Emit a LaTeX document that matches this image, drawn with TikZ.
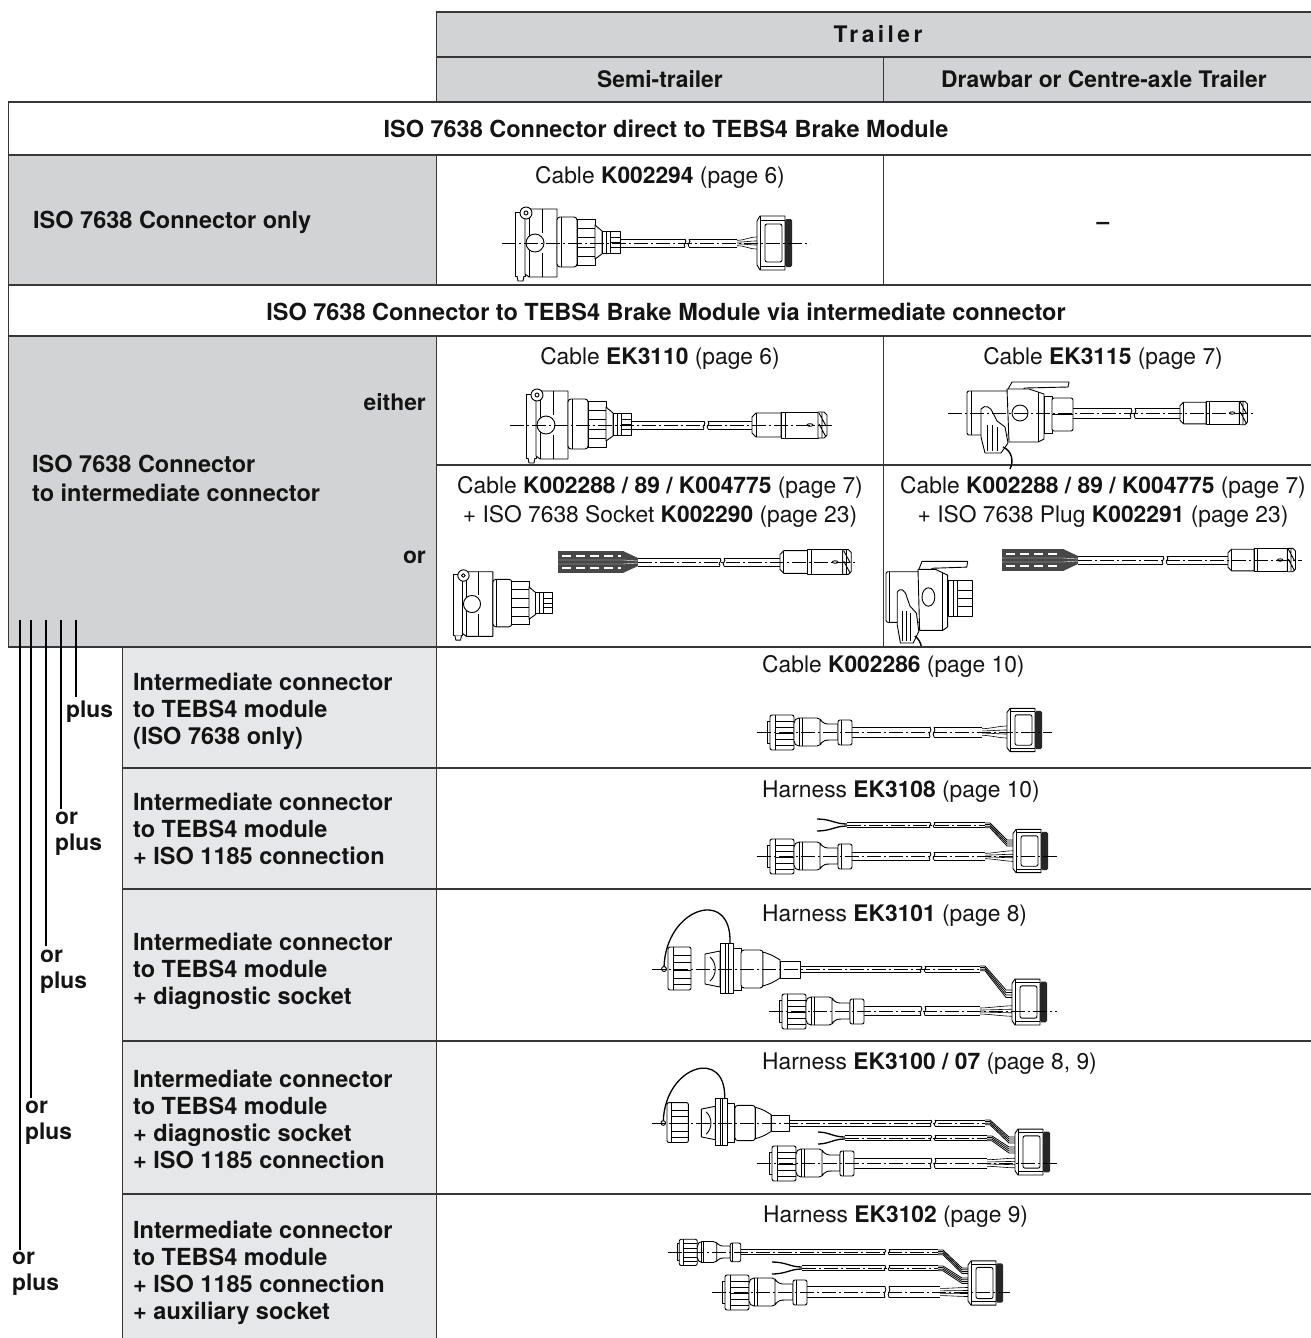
\documentclass[tikz,border=0pt]{standalone}
\usepackage{fontspec}
\setmainfont{TeX Gyre Heros}
\newfontfamily\spacedfont[LetterSpace=15]{TeX Gyre Heros}

\definecolor{hdr}{RGB}{209,211,212}
\definecolor{lgt}{RGB}{230,231,232}
\definecolor{rulec}{RGB}{55,55,55}
\definecolor{txt}{RGB}{20,20,20}

\tikzset{
  ln/.style={draw=black, line width=0.9pt, line join=round},
  axisln/.style={draw=black, line width=0.6pt, dash pattern=on 14pt off 3pt on 2pt off 3pt},
  rulethick/.style={draw=rulec, line width=1.6pt},
  rulethin/.style={draw=rulec, line width=1pt},
  brk/.style={draw=black, line width=1.2pt},
  bt/.style={font=\fontsize{22.8}{27}\selectfont\bfseries, text=txt, inner sep=0pt},
  bw/.style={font=\fontsize{23.5}{27}\selectfont\bfseries, text=txt, inner sep=0pt},
  rt/.style={font=\fontsize{22.8}{27}\selectfont, text=txt, inner sep=0pt},
  spt/.style={font=\fontsize{22.8}{27}\selectfont\spacedfont\bfseries, text=txt, inner sep=0pt},
  pics/isosocket/.style={code={
    \draw[ln,fill=white] (0,-31) rectangle (10,33);
    \draw[ln,fill=white] (2,33) -- (3,38) -- (8,38) -- (9,33);
    \draw[ln,fill=white] (10,-31) -- (14,-34) -- (42,-34) -- (42,34) -- (14,34) -- (10,31) -- cycle;
    \draw[ln] (14,-34) -- (14,34);
    \draw[ln] (27,-34) -- (27,-10) (27,10) -- (27,34);
    \draw[ln,fill=white] (20,0) circle (9);
    \draw[ln,fill=white] (11,-30) circle (6);
    \draw[ln] (11,-30) circle (2);
    \draw[ln,fill=white,rounded corners=3] (42,-26) rectangle (62,24);
    \draw[ln] (46,-26) -- (46,24);
    \draw[ln,fill=white] (62,-24) rectangle (80,22);
    \foreach \yy in {-15,-6,4,13} \draw[ln] (62,\yy) -- (80,\yy);
    \draw[ln,fill=white] (80,-18) -- (87,-12) -- (87,11) -- (80,16) -- cycle;
    \draw[ln,fill=white] (87,-12) rectangle (105,10);
    \draw[ln] (91,-12) -- (91,10) (95,-12) -- (95,10);
    \foreach \yy in {-6,-1,4} \draw[ln] (95,\yy) -- (105,\yy);
  }},
  pics/tebs/.style={code={
    \draw[ln,fill=white] (0,-22) -- (3,-27) -- (28,-27) -- (28,27) -- (3,27) -- (0,22) -- cycle;
    \draw[ln] (3,-27) -- (3,27);
    \draw[ln,rounded corners=2] (8,-19) rectangle (25,19);
    \draw[ln] (3,-23) -- (28,-23) (3,23) -- (28,23);
    \fill[black!85,rounded corners=1.5] (28,-24) rectangle (35,24);
  }},
  pics/endplug/.style={code={
    \draw[ln,fill=white] (0,-8) -- (4,-12) -- (29,-12) -- (29,12) -- (4,12) -- (0,8) -- cycle;
    \draw[ln] (4,-12) -- (4,12);
    \draw[ln,fill=white] (29,-13) rectangle (66,13);
    \draw[ln] (33,-13) -- (33,13);
    \draw[ln,fill=white] (66,-13) -- (72,-13) -- (75,-10) -- (75,10) -- (72,13) -- (66,13) -- cycle;
    \draw[ln] (67,-12) -- (74,1) (67,-1) -- (74,12) (70,-13) -- (70,13);
    \draw[ln] (58,0) ellipse (3 and 1.3);
  }},
  pics/isoplug/.style={code={
    \draw[ln,fill=white] (40,-22) -- (45,-31) -- (102,-31) -- (101,-26) -- (58,-25) -- (54,-22) -- cycle;
    \draw[ln,fill=white,rounded corners=2] (0,-22) rectangle (43,22);
    \draw[ln] (4,-22) -- (4,22);
    \draw[ln,fill=white] (40,-24) -- (62,-24) -- (77,-19) -- (77,26) -- (71,29) -- (42,29) -- cycle;
    \draw[ln] (71,-21) -- (71,29);
    \draw[ln,fill=white] (53,0) circle (8);
    \draw[ln,fill=white] (14,-4) .. controls (18,-9) and (24,-6) .. (26,0) -- (30,8) -- (38,14) -- (41,30) -- (34,40) -- (18,40) -- (14,24) -- cycle;
    \draw[ln] (20,12) -- (20,38) (25,12) -- (25,38) (30,14) -- (30,38);
    \draw[line width=1.4pt] (36,34) .. controls (45,38) and (47,48) .. (43,56);
  }},
  pics/bus/.style={code={
    \draw[ln,fill=white] (0,-11) rectangle (5,11);
    \draw[ln,fill=white,rounded corners=2] (3,-17) rectangle (27,18);
    \draw[ln] (8,-17) -- (8,18);
    \foreach \yy in {-11,-5,1,7,13} \draw[ln] (8,\yy) -- (27,\yy);
    \draw[ln,fill=white,rounded corners=5] (27,-14) rectangle (55,14);
    \draw[ln] (32,-14) -- (32,14) (35,-14) -- (35,14);
    \draw[ln,fill=white] (53,-12) .. controls (58,-8) .. (64,-8) -- (71,-8) -- (71,8) -- (64,8) .. controls (58,8) .. (53,12) -- cycle;
    \draw[ln,fill=white,rounded corners=2] (71,-12) rectangle (85,13);
    \draw[ln] (74,-12) -- (74,13);
  }},
  pics/diag/.style={code={
    \draw[line width=1.3pt] (-4,-2) .. controls (-2,-62) and (64,-82) .. (62,-26);
    \draw[ln,fill=white,rounded corners=2] (0,-22) rectangle (23,21);
    \draw[ln] (5,-22) -- (5,21);
    \foreach \yy in {-14,-7,1,9,15} \draw[ln] (5,\yy) -- (23,\yy);
    \draw[ln,fill=white] (-4,0) circle (2.5);
    \draw[ln,fill=white] (37,-15) -- (52,-18) -- (52,18) -- (37,15) -- cycle;
    \draw[ln] (42,-12) .. controls (49,-6) and (49,6) .. (42,12);
    \draw[ln,fill=white] (52,-26) rectangle (65,24);
    \draw[ln] (57,-26) -- (57,24) (60,-26) -- (60,24);
    \draw[ln,fill=white] (65,-21) rectangle (73,21);
    \draw[ln,fill=white,rounded corners=3] (73,-19) rectangle (95,19);
    \draw[ln,fill=white] (95,-17) .. controls (104,-14) .. (112,-9) -- (112,9) .. controls (104,14) .. (95,17) -- cycle;
    \draw[ln,fill=white] (112,-8) rectangle (132,9);
  }},
}

% cable: x1, x2, y, half width, break x
\newcommand\CableRun[5]{%
  \fill[white] ({#1},{#3-#4}) rectangle ({#2},{#3+#4});
  \draw[ln] ({#1},{#3-#4}) -- ({#5-2},{#3-#4}) ({#5+2},{#3-#4}) -- ({#2},{#3-#4});
  \draw[ln] ({#1},{#3+#4}) -- ({#5-2},{#3+#4}) ({#5+2},{#3+#4}) -- ({#2},{#3+#4});
  \draw[ln] ({#5-2},{#3-#4}) .. controls ({#5+1},{#3}) and ({#5-5},{#3}) .. ({#5-2},{#3+#4});
  \draw[ln] ({#5+2},{#3-#4}) .. controls ({#5+5},{#3}) and ({#5-1},{#3}) .. ({#5+2},{#3+#4});
}
% wire fan: x1, x2, y, spacing at x1, spacing at x2
\newcommand\WireFan[5]{%
  \foreach \k in {-1.5,-0.5,0.5,1.5}{\draw[line width=0.6pt] ({#1},{#3+\k*#4}) .. controls ({#1+8},{#3+\k*#4}) and ({#2-8},{#3+\k*#5}) .. ({#2},{#3+\k*#5});}
}
% bent wire bundle: x1, y1 (top), x2, y2 (top), spacing at x2
\newcommand\WireBend[5]{%
  \foreach \k in {0,1,2,3}{\draw[line width=0.8pt] ({#1},{#2+\k*1.6}) -- ({#1+5},{#2+\k*1.6}) -- ({#3-6},{#4+\k*#5}) -- ({#3},{#4+\k*#5});}
}
% split wire ends: x (cable end), y, length
\newcommand\WireSplit[3]{%
  \draw[line width=1.3pt] ({#1},{#2-1}) .. controls ({#1-12},{#2-1}) and ({#1-16},{#2-6}) .. ({#1-#3},{#2-6});
  \draw[line width=1.3pt] ({#1},{#2+1}) .. controls ({#1-12},{#2+1}) and ({#1-16},{#2+6}) .. ({#1-#3},{#2+6});
}
% dark wire bundle: x1, x2, y
\newcommand\Bundle[3]{%
  \fill[black!72] ({#1},{#3-11}) rectangle ({#2},{#3+11});
  \fill[black!72] ({#2},{#3-11}) -- ({#2+15},{#3-4}) -- ({#2+15},{#3+4}) -- ({#2},{#3+11}) -- cycle;
  \draw[white,line width=1.1pt,dash pattern=on 9pt off 5pt] ({#1+4},{#3-6}) -- ({#2-2},{#3-6});
  \draw[white,line width=1.1pt,dash pattern=on 9pt off 5pt] ({#1+4},{#3+6}) -- ({#2-2},{#3+6});
  \draw[white,line width=0.4pt] ({#1},{#3-2}) -- ({#2},{#3-2}) -- ({#2+15},{#3-1}) ({#1},{#3+2}) -- ({#2},{#3+2}) -- ({#2+15},{#3+1});
}

\begin{document}
\begin{tikzpicture}[x=1pt,y=-1pt]
\useasboundingbox (0,0) rectangle (1310,1338);
% ---------- cell fills
\fill[hdr] (436,12) rectangle (1330,102);
\fill[hdr] (8,155) rectangle (436,285);
\fill[hdr] (8,336) rectangle (436,647);
\fill[lgt] (122,647) rectangle (436,1340);
% ---------- rules
\draw[rulethick] (436,12) -- (1330,12);
\draw[rulethick] (436,57) -- (1330,57);
\draw[rulethick] (8,102) -- (1330,102);
\draw[rulethick] (8,155) -- (1330,155);
\draw[rulethick] (8,285) -- (1330,285);
\draw[rulethick] (8,336) -- (1330,336);
\draw[rulethick] (436,465) -- (1330,465);
\draw[rulethick] (8,647) -- (1330,647);
\foreach \yy in {768,889,1041,1194} \draw[rulethick] (122,\yy) -- (1330,\yy);
\draw[rulethin] (436,12) -- (436,102);
\draw[rulethin] (883,57) -- (883,102);
\draw[rulethin] (8,102) -- (8,647);
\draw[rulethin] (436,155) -- (436,285);
\draw[rulethin] (883,155) -- (883,285);
\draw[rulethin] (436,336) -- (436,1340);
\draw[rulethin] (883,336) -- (883,647);
\draw[rulethin] (122,647) -- (122,1340);

% ---------- header texts
\node[spt, anchor=base] (trl) at (878,43) {Trailer};
\node[bt, anchor=base] (semi) at (660,88) {Semi-trailer};
\node[bt, anchor=base] (drw) at (1104,88) {Drawbar or Centre-axle Trailer};
\node[bw, anchor=base] (sec1) at (666,137) {ISO 7638 Connector direct to TEBS4 Brake Module};
\node[bw, anchor=base west] (only) at (33,228) {ISO 7638 Connector only};
\node[rt, anchor=base] (cap1) at (660,183) {Cable \textbf{K002294} (page 6)};
\node[bt, anchor=base] (none) at (1103,229) {–};
\node[bw, anchor=base] (sec2) at (666,320) {ISO 7638 Connector to TEBS4 Brake Module via intermediate connector};
\node[bt, anchor=base east] (either) at (426,410) {either};
\node[bw, anchor=base west] (tia) at (32,472) {ISO 7638 Connector};
\node[bw, anchor=base west] (tib) at (32,501) {to intermediate connector};
\node[bt, anchor=base east] (orr) at (426,563) {or};
\node[rt, anchor=base] (cap2) at (660,364) {Cable \textbf{EK3110} (page 6)};
\node[rt, anchor=base] (cap3) at (1103,364) {Cable \textbf{EK3115} (page 7)};
\node[rt, anchor=base] (cap4a) at (660,493) {Cable \textbf{K002288 / 89 / K004775} (page 7)};
\node[rt, anchor=base] (cap4b) at (660,522) {+ ISO 7638 Socket \textbf{K002290} (page 23)};
\node[rt, anchor=base] (cap5a) at (1103,493) {Cable \textbf{K002288 / 89 / K004775} (page 7)};
\node[rt, anchor=base] (cap5b) at (1103,522) {+ ISO 7638 Plug \textbf{K002291} (page 23)};

% ---------- lower left texts
\node[bw, anchor=base west] (a1) at (133,690) {Intermediate connector};
\node[bw, anchor=base west] (a2) at (133,717) {to TEBS4 module};
\node[bw, anchor=base west] (a3) at (133,744) {(ISO 7638 only)};
\node[bw, anchor=base west] (b1) at (133,810) {Intermediate connector};
\node[bw, anchor=base west] (b2) at (133,837) {to TEBS4 module};
\node[bw, anchor=base west] (b3) at (133,864) {+ ISO 1185 connection};
\node[bw, anchor=base west] (c1) at (133,950) {Intermediate connector};
\node[bw, anchor=base west] (c2) at (133,977) {to TEBS4 module};
\node[bw, anchor=base west] (c3) at (133,1004) {+ diagnostic socket};
\node[bw, anchor=base west] (d1) at (133,1087) {Intermediate connector};
\node[bw, anchor=base west] (d2) at (133,1114) {to TEBS4 module};
\node[bw, anchor=base west] (d3) at (133,1141) {+ diagnostic socket};
\node[bw, anchor=base west] (d4) at (133,1168) {+ ISO 1185 connection};
\node[bw, anchor=base west] (e1) at (133,1238) {Intermediate connector};
\node[bw, anchor=base west] (e2) at (133,1265) {to TEBS4 module};
\node[bw, anchor=base west] (e3) at (133,1292) {+ ISO 1185 connection};
\node[bw, anchor=base west] (e4) at (133,1319) {+ auxiliary socket};

% ---------- or / plus brackets
\draw[brk] (76,620) -- (76,697);
\draw[brk] (61,620) -- (61,809);
\draw[brk] (46,620) -- (46,946);
\draw[brk] (31,620) -- (31,1098);
\draw[brk] (20,620) -- (20,1250);
\node[bt, anchor=base west] (pa) at (66,717) {plus};
\node[bt, anchor=base west] (ob) at (55,824) {or};
\node[bt, anchor=base west] (pb) at (55,850) {plus};
\node[bt, anchor=base west] (oc) at (40,962) {or};
\node[bt, anchor=base west] (pc) at (40,988) {plus};
\node[bt, anchor=base west] (od) at (25,1113) {or};
\node[bt, anchor=base west] (pd) at (25,1139) {plus};
\node[bt, anchor=base west] (oe) at (12,1264) {or};
\node[bt, anchor=base west] (pe) at (12,1290) {plus};

% ---------- lower right captions
\node[rt, anchor=base west] (h1) at (762,672) {Cable \textbf{K002286} (page 10)};
\node[rt, anchor=base west] (h2) at (762,797) {Harness \textbf{EK3108} (page 10)};
\node[rt, anchor=base west] (h3) at (762,921) {Harness \textbf{EK3101} (page 8)};
\node[rt, anchor=base west] (h4) at (762,1069) {Harness \textbf{EK3100 / 07} (page 8, 9)};
\node[rt, anchor=base west] (h5) at (763,1222) {Harness \textbf{EK3102} (page 9)};

% ================= drawings =================
% D1 K002294
\CableRun{620}{737}{243}{4}{687}
\WireFan{737}{757}{243}{1.8}{4}
\pic at (515,243) {isosocket};
\pic at (757,243) {tebs};
\draw[axisln] (502,243) -- (810,243);

% D2 EK3110
\CableRun{631}{752}{425}{4}{706}
\pic at (526,425) {isosocket};
\pic at (752,425) {endplug};
\draw[axisln] (510,425) -- (835,425);

% D3 EK3115
\CableRun{1073}{1180}{413}{5}{1133}
\pic at (967,413) {isoplug};
\draw[ln,fill=white] (1044,396) rectangle (1052,433);
\draw[ln,fill=white,rounded corners=2] (1052,398) rectangle (1073,431);
\draw[ln] (1052,414) -- (1073,414);
\pic[scale=0.9] at (1180,413) {endplug};
\draw[axisln] (948,413) -- (1253,413);

% D4 K002288 + socket K002290
\pic[scale=0.95] at (453,604) {isosocket};
\Bundle{558}{623}{562}
\CableRun{638}{780}{562}{4}{722}
\pic[scale=0.95] at (780,562) {endplug};
\draw[axisln] (638,562) -- (858,562);

% D5 K002288 + plug K002291
\begin{scope}
\clip (884,467) rectangle (1330,645);
\pic[xscale=0.8,yscale=1.15] at (886,597) {isoplug};
\end{scope}
\draw[ln,fill=white] (948,580) rectangle (972,616);
\draw[ln] (953,580) -- (953,616) (957,580) -- (957,616);
\foreach \yy in {590,598,606} \draw[ln] (957,\yy) -- (972,\yy);
\Bundle{1002}{1063}{560}
\CableRun{1078}{1228}{560}{4}{1165}
\pic[scale=0.9] at (1228,560) {endplug};
\draw[axisln] (1078,560) -- (1302,560);

% D6 K002286
\CableRun{852}{982}{732}{5}{932}
\WireFan{982}{1007}{732}{2.2}{4}
\pic at (767,732) {bus};
\pic[yscale=0.8] at (1007,730) {tebs};
\draw[axisln] (757,732) -- (1052,732);

% D7 EK3108
\CableRun{847}{985}{825}{2.5}{932}
\WireSplit{847}{825}{30}
\WireBend{985}{823}{1013}{840}{2}
\draw[axisln] (847,825) -- (985,825);
\CableRun{852}{985}{856}{4}{932}
\WireFan{985}{1013}{856}{1.8}{3.5}
\pic at (767,856) {bus};
\pic[yscale=0.8] at (1013,851) {tebs};
\draw[axisln] (757,856) -- (1058,856);

% D8 EK3101
\CableRun{800}{980}{969}{3}{923}
\WireBend{980}{966}{1012}{990}{2.5}
\pic at (668,969) {diag};
\draw[axisln] (652,969) -- (980,969);
\CableRun{864}{980}{1011}{4.5}{923}
\WireFan{980}{1012}{1011}{2}{3.5}
\pic at (779,1011) {bus};
\pic[yscale=0.85] at (1012,1002) {tebs};
\draw[axisln] (769,1011) -- (1057,1011);

% D9 EK3100 / 07
\CableRun{790}{985}{1123}{3}{933}
\WireBend{985}{1120}{1015}{1137}{2}
\pic[scale=0.93] at (667,1123) {diag};
\draw[axisln] (652,1123) -- (985,1123);
\CableRun{845}{987}{1138}{2.5}{933}
\WireSplit{845}{1138}{27}
\WireBend{987}{1136}{1015}{1147}{2}
\draw[axisln] (845,1138) -- (987,1138);
\CableRun{854}{987}{1163}{5}{933}
\WireFan{987}{1015}{1163}{2.2}{3.2}
\pic at (769,1163) {bus};
\pic[yscale=0.85] at (1015,1152) {tebs};
\draw[axisln] (757,1163) -- (1058,1163);

% D10 EK3102
\CableRun{740}{938}{1252}{2.5}{887}
\WireBend{938}{1250}{968}{1268}{1.8}
\pic[scale=0.75] at (677,1252) {bus};
\draw[axisln] (668,1252) -- (938,1252);
\CableRun{802}{938}{1268}{2.5}{887}
\WireSplit{802}{1268}{30}
\WireBend{938}{1266}{968}{1278}{1.8}
\draw[axisln] (802,1268) -- (938,1268);
\CableRun{807}{940}{1292}{5.5}{887}
\WireFan{940}{968}{1292}{2.4}{3}
\pic at (722,1292) {bus};
\pic[yscale=0.82] at (968,1283) {tebs};
\draw[axisln] (712,1292) -- (1010,1292);
\end{tikzpicture}
\end{document}
